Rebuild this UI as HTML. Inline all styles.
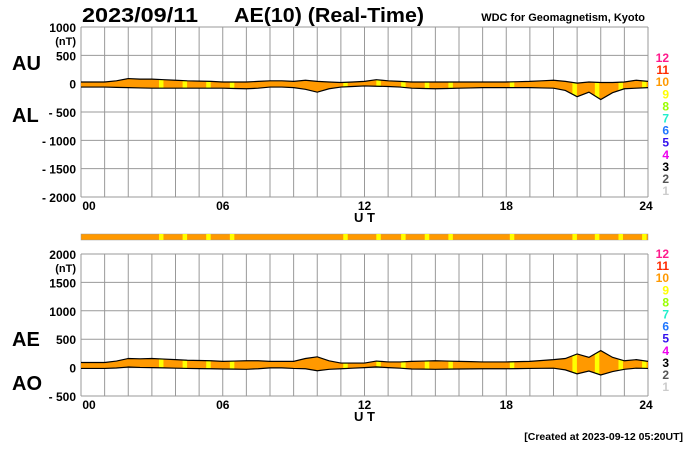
<!DOCTYPE html>
<html><head><meta charset="utf-8"><style>
body{margin:0;background:#fff;width:700px;height:450px;overflow:hidden;font-family:"Liberation Sans",Arial,sans-serif}
svg{display:block}
</style></head><body>
<svg id="chart" width="700" height="450" xmlns="http://www.w3.org/2000/svg" font-family="Liberation Sans, Arial, sans-serif">
<text x="82" y="22" font-size="20" font-weight="bold" textLength="116" lengthAdjust="spacingAndGlyphs">2023/09/11</text>
<text x="234" y="22" font-size="20" font-weight="bold" textLength="190" lengthAdjust="spacingAndGlyphs">AE(10) (Real-Time)</text>
<text x="645" y="21" font-size="11" font-weight="bold" text-anchor="end">WDC for Geomagnetism, Kyoto</text>
<text x="12" y="70" font-size="20" font-weight="bold">AU</text>
<text x="12" y="122" font-size="20" font-weight="bold">AL</text>
<text x="12" y="346" font-size="20" font-weight="bold">AE</text>
<text x="12" y="390" font-size="20" font-weight="bold">AO</text>
<text x="683" y="440" font-size="10.5" font-weight="bold" text-anchor="end">[Created at 2023-09-12 05:20UT]</text>
<g id="top"></g><g id="bar"></g><g id="bot"></g><g id="legend"></g>
</svg>
<script>
const hours=[0,0.5,1,1.5,2,2.5,3,3.5,4,4.5,5,5.5,6,6.5,7,7.5,8,8.5,9,9.5,10,10.5,11,11.5,12,12.5,13,13.5,14,14.5,15,15.5,16,16.5,17,17.5,18,18.5,19,19.5,20,20.5,21,21.5,22,22.5,23,23.5,24];
const auValues=[30,30,30,50,90,80,80,70,60,50,45,40,30,30,30,40,50,50,40,60,40,30,20,30,40,70,50,40,30,30,30,30,30,30,30,30,30,35,40,50,60,40,10,30,20,20,30,60,40];
const alValues=[-60,-60,-60,-65,-70,-75,-80,-80,-80,-80,-80,-80,-80,-85,-90,-80,-60,-60,-70,-100,-150,-90,-60,-50,-40,-45,-50,-60,-80,-85,-90,-85,-80,-75,-70,-70,-70,-70,-70,-75,-80,-120,-230,-150,-280,-160,-90,-80,-70];
const yellowStart=[3.3,4.3,5.3,6.3,11.1,12.5,13.55,14.55,15.55,18.15,20.8,21.75,22.75,23.75];
const topTicks=[1000,500,0,-500,-1000,-1500,-2000];
const botTicks=[2000,1500,1000,500,0,-500];
const xTicks=["00","06","12","18","24"];
const legendLabels=["12","11","10","9","8","7","6","5","4","3","2","1"];
const legendColors=["#ff1a8c","#ff2a00","#ff9900","#ffff00","#99ff00","#22eecc","#2277ff","#3311ee","#ee00ee","#000000","#555555","#cccccc"];

const NS="http://www.w3.org/2000/svg";
const X0=81,X1=648;
const xs=h=>X0+(X1-X0)*h/24;
function mk(p,t,a){const e=document.createElementNS(NS,t);for(const k in a)e.setAttribute(k,a[k]);p.appendChild(e);return e;}
function panel(g,top,bottom,vmax,vmin,ticks,upper,lower,nm){
  const ys=v=>top+(vmax-v)/(vmax-vmin)*(bottom-top);
  for(let h=0;h<=24;h++){const l=mk(g,'line',{x1:xs(h),x2:xs(h),y1:top,y2:bottom,stroke:'#999','stroke-width':1});
    }
  ticks.forEach(v=>{const l=mk(g,'line',{x1:X0,x2:X1,y1:ys(v),y2:ys(v),stroke:'#999','stroke-width':1});
    
    const t=mk(g,'text',{x:76,y:ys(v)+5,'font-size':12,'font-weight':'bold','text-anchor':'end'});
    t.textContent=v<0?'- '+(-v):String(v);
    });
  const u=mk(g,'text',{x:76,y:top+18,'font-size':11,'font-weight':'bold','text-anchor':'end'});u.textContent='(nT)';
  
  const id='clip'+nm;
  const cp=mk(g,'clipPath',{id:id});
  let d='M'+hours.map((h,i)=>xs(h)+','+ys(upper[i])).join('L');
  for(let i=hours.length-1;i>=0;i--)d+='L'+xs(hours[i])+','+ys(lower[i]);d+='Z';
  mk(cp,'path',{d:d});
  const f=mk(g,'path',{d:d,fill:'#ff9900'});
  const yg=mk(g,'g',{'clip-path':'url(#'+id+')'});
  yellowStart.forEach(h=>{const r=mk(yg,'rect',{x:xs(h),y:top,width:4.5,height:bottom-top,fill:'#ffff00'});
    });
  const lu=mk(g,'path',{d:'M'+hours.map((h,i)=>xs(h)+','+ys(upper[i])).join('L'),fill:'none',stroke:'#000','stroke-width':1.2});
  
  const ll=mk(g,'path',{d:'M'+hours.map((h,i)=>xs(h)+','+ys(lower[i])).join('L'),fill:'none',stroke:'#000','stroke-width':1.2});
  
  xTicks.forEach((s,i)=>{const t=mk(g,'text',{x:xs(i*6)+(i==0?8:i==4?-2:0),y:bottom+13,'font-size':12,'font-weight':'bold','text-anchor':'middle'});t.textContent=s;
    });
  const ut=mk(g,'text',{x:xs(12),y:bottom+25,'font-size':13,'font-weight':'bold','text-anchor':'middle'});ut.textContent='U T';
  
}
panel(document.getElementById('top'),27,197,1000,-2000,topTicks,auValues,alValues,'au-al');
const ae=auValues.map((a,i)=>a-alValues[i]);
const ao=auValues.map((a,i)=>(a+alValues[i])/2);
panel(document.getElementById('bot'),254,396,2000,-500,botTicks,ae,ao,'ae-ao');
const bar=document.getElementById('bar');
const b=mk(bar,'rect',{x:X0,y:234,width:X1-X0,height:6,fill:'#ff9900',stroke:'#999','stroke-width':0.5});

yellowStart.forEach(h=>{const r=mk(bar,'rect',{x:xs(h),y:234,width:4.5,height:6,fill:'#ffff00'});
  });
const lg=document.getElementById('legend');
[62,258].forEach(y0=>{legendLabels.forEach((s,i)=>{const t=mk(lg,'text',{x:669,y:y0+i*12.1,'font-size':12,'font-weight':'bold','text-anchor':'end',fill:legendColors[i]});t.textContent=s;
  });});
</script>
</body></html>
